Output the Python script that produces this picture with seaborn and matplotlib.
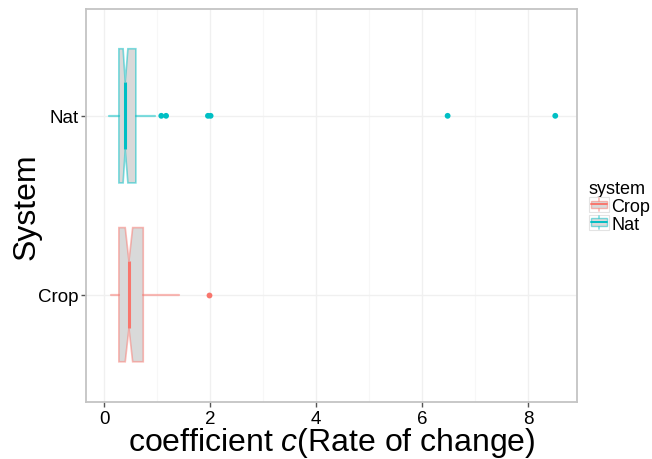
import numpy as np
import pandas as pd
import seaborn as sns
import matplotlib
matplotlib.use("Agg")
import matplotlib.pyplot as plt
from matplotlib.legend_handler import HandlerBase
from matplotlib.lines import Line2D
from matplotlib.patches import Rectangle
from matplotlib.ticker import FixedLocator
from matplotlib.colors import to_rgba

# Summary statistics of coefficient c per system
systems = ["Crop", "Nat"]
colors = ["#F8766D", "#00BFC4"]
q1 = [0.28, 0.28]
median = [0.47, 0.40]
q3 = [0.74, 0.60]
notch_lo = [0.40, 0.36]
notch_hi = [0.54, 0.45]
whisker_lo = [0.13, 0.09]
whisker_hi = [1.41, 0.96]
outliers_crop = [1.98]
outliers_nat = [1.08, 1.17, 1.96, 2.01, 6.48, 8.51]
x_ticks = [0, 2, 4, 6, 8]

sns.set_theme(style="whitegrid")
plt.rcParams["font.family"] = ["Liberation Sans", "DejaVu Sans"]
plt.rcParams["mathtext.fontset"] = "custom"
plt.rcParams["mathtext.it"] = "Liberation Sans:italic"
plt.rcParams["mathtext.rm"] = "Liberation Sans"
plt.rcParams["text.color"] = "black"
plt.rcParams["axes.labelcolor"] = "black"

fig = plt.figure(figsize=(6.52, 4.60), dpi=100)
ax = fig.add_axes([86 / 652, 1 - 403 / 460, (577 - 86) / 652, (403 - 9.5) / 460])

# outlying points drawn by seaborn on the categorical axis (Nat on top)
order = ["Nat", "Crop"]
out_df = pd.DataFrame({
    "value": outliers_crop + outliers_nat,
    "system": ["Crop"] * len(outliers_crop) + ["Nat"] * len(outliers_nat),
})
palette = dict(zip(systems, colors))
sns.stripplot(data=out_df, x="value", y="system", hue="system", order=order,
              palette=palette, jitter=False, size=4.2, linewidth=0, ax=ax,
              legend=False, zorder=4)

box_width = 0.75
for i, name in enumerate(systems):
    pos = order.index(name)
    col = colors[i]
    light = to_rgba(col, 0.5)
    stats = [dict(med=median[i], q1=q1[i], q3=q3[i], cilo=notch_lo[i],
                  cihi=notch_hi[i], whislo=whisker_lo[i], whishi=whisker_hi[i],
                  fliers=[])]
    ax.bxp(stats, positions=[pos], widths=box_width, capwidths=0.3 * box_width,
           vert=False, patch_artist=True, shownotches=True, showcaps=False,
           showfliers=False, manage_ticks=False,
           boxprops=dict(facecolor="#D9D9D9", edgecolor=light, linewidth=1.2),
           whiskerprops=dict(color=light, linewidth=1.6),
           medianprops=dict(color=col, linewidth=2.2, solid_capstyle="butt"),
           zorder=3)

ax.set_xlim(-0.34, 8.92)
ax.set_ylim(1.6, -0.6)
ax.set_xticks(x_ticks)
ax.set_xticklabels([str(t) for t in x_ticks])
ax.xaxis.set_minor_locator(FixedLocator([1, 3, 5, 7]))
ax.set_yticks([0, 1])
ax.set_yticklabels(order)

ax.grid(True, which="major", color="#F0F0F0", linewidth=1.0)
ax.grid(True, which="minor", axis="x", color="#F7F7F7", linewidth=0.8)
ax.set_axisbelow(True)
ax.set_facecolor("white")
for sp in ax.spines.values():
    sp.set_color("#C4C4C4")
    sp.set_linewidth(1.3)

ax.tick_params(axis="both", which="major", length=3.5, width=1, color="#555555",
               labelsize=13.5, labelcolor="black", pad=2, direction="out",
               bottom=True, left=True)
ax.tick_params(axis="x", which="minor", length=0)

ax.set_xlabel("coefficient $c$(Rate of change)", fontsize=23, labelpad=-1)
ax.set_ylabel("System", fontsize=23, labelpad=-3)


class BoxKeyHandler(HandlerBase):
    def create_artists(self, legend, orig_handle, xdescent, ydescent,
                       width, height, fontsize, trans):
        col = orig_handle.get_color()
        light = to_rgba(col, 0.5)
        x0 = -xdescent
        y0 = -ydescent
        cx = x0 + width / 2
        frame = Rectangle((x0, y0), width, height, facecolor="white",
                          edgecolor="#E3E3E3", lw=0.8, transform=trans)
        whisk = Line2D([cx, cx], [y0 + height * 0.08, y0 + height * 0.92],
                       color=light, lw=1.2, transform=trans)
        box = Rectangle((x0 + width * 0.12, y0 + height * 0.25),
                        width * 0.76, height * 0.5, facecolor="#D9D9D9",
                        edgecolor=light, lw=1.0, transform=trans)
        med = Line2D([x0 + width * 0.12, x0 + width * 0.88],
                     [y0 + height / 2] * 2, color=col, lw=1.4, transform=trans)
        return [frame, whisk, box, med]


handles = [Line2D([], [], color=c) for c in colors]
leg = fig.legend(handles, systems, title="system", loc="upper left",
                 bbox_to_anchor=(585 / 652, 1 - 177 / 460), frameon=False,
                 fontsize=13, title_fontsize=13, handlelength=1.15,
                 handleheight=0.95, handletextpad=0.12, labelspacing=0.0,
                 borderpad=0.2, borderaxespad=0.0,
                 handler_map={Line2D: BoxKeyHandler()})
leg._legend_box.align = "left"

fig.savefig("out.png", dpi=100, facecolor="white")
